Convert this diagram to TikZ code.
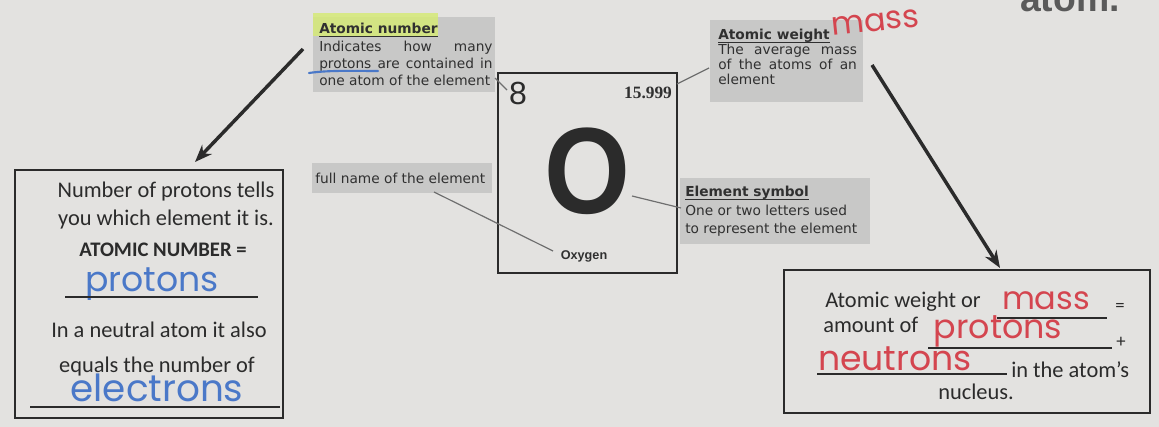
\documentclass[tikz,border=0pt]{standalone}
\usepackage{fontspec}
\setmainfont{Carlito}
\newfontfamily\dejavu{DejaVu Sans}
\newfontfamily\arialf{Liberation Sans}
\newfontfamily\timesf{Liberation Serif}
\newfontfamily\handf{Poppins}
\usetikzlibrary{arrows.meta}
\definecolor{bg}{HTML}{E3E2E0}
\definecolor{boxgray}{HTML}{C8C8C7}
\definecolor{ink}{HTML}{2B2B2B}
\definecolor{labink}{HTML}{303030}
\definecolor{leadgray}{HTML}{6F6F6F}
\definecolor{penblue}{HTML}{4A78C8}
\definecolor{penred}{HTML}{D4454F}
\definecolor{hl}{HTML}{D6EA78}
\newcommand\ulbl[1]{\underline{\smash{#1}}}
\begin{document}
\begin{tikzpicture}[x=0.75pt,y=-0.75pt,
  graybox/.style={fill=boxgray, inner sep=0, outer sep=0, anchor=north west},
  lbl/.style={font={\dejavu\fontsize{10.3}{12}\selectfont}, text=labink, inner sep=0, anchor=base west},
  bodytxt/.style={font={\fontsize{16.8}{19}\selectfont}, text=ink, inner sep=0, anchor=base},
  handblue/.style={font={\handf\fontsize{26}{28}\selectfont}, text=penblue, inner sep=0, anchor=base},
  handred/.style={font={\handf\fontsize{24}{26}\selectfont}, text=penred, inner sep=0, anchor=base},
  leader/.style={draw=leadgray, line width=0.9pt},
  bigarrow/.style={draw=ink, line width=2.6pt, -{Stealth[length=13pt,width=10pt]}},
  frame/.style={draw=ink, line width=1.4pt, inner sep=0, outer sep=0, anchor=north west},
  blank/.style={draw=ink, line width=0.9pt}]
\fill[bg] (0,0) rectangle (1159,427);
\useasboundingbox (0,0) rectangle (1159,427);

% partially visible word at top right
\node[font={\arialf\bfseries\fontsize{28}{30}\selectfont}, text=labink!80, inner sep=0, anchor=base] (atomcut) at (1070,12) {atom.};

% ---------- Atomic number box ----------
\node[graybox, minimum width=136.5pt, minimum height=56.25pt] (anumbox) at (313,17) {};
\fill[hl, opacity=0.85] (313,13) rectangle (438,36);
\node[lbl] (an1) at (319,34) {\ulbl{\textbf{Atomic number}}};
\node[lbl] (an2) at (319,52) {\makebox[130pt][s]{Indicates how many}};
\node[lbl] (an3) at (319,69) {\makebox[130pt][s]{protons are contained in}};
\node[lbl] (an4) at (319,86) {one atom of the element};
\draw[penblue, line width=1.6pt, line cap=round] (309,73) .. controls (330,70) and (355,71) .. (378,71);

% ---------- Element tile ----------
\node[frame, minimum width=134.25pt, minimum height=150pt] (tile) at (498,73) {};
\node[font={\arialf\fontsize{24}{26}\selectfont}, text=ink, inner sep=0] (eight) at (518,93) {8};
\node[font={\timesf\bfseries\fontsize{13}{14}\selectfont}, text=labink, inner sep=0] (wnum) at (648,93) {15.999};
\node[font={\arialf\bfseries\fontsize{92}{96}\selectfont}, text=ink, inner sep=0, xscale=0.9] (sym) at (587,171) {O};
\node[font={\arialf\bfseries\fontsize{9.5}{11}\selectfont}, text=labink, inner sep=0] (oxy) at (584,256) {Oxygen};

% ---------- Atomic weight box ----------
\node[graybox, minimum width=114.75pt, minimum height=61.5pt] (wbox) at (710,20) {};
\node[lbl] (aw1) at (718,40) {\ulbl{\textbf{Atomic weight}}};
\node[lbl] (aw2) at (718,55) {\makebox[104pt][s]{The average mass}};
\node[lbl] (aw3) at (718,70) {\makebox[104pt][s]{of the atoms of an}};
\node[lbl] (aw4) at (718,85) {element};
\node[handred, rotate=6] (mtop) at (876,31) {mass};

% ---------- Full name box ----------
\node[graybox, minimum width=135pt, minimum height=22.5pt] (nbox) at (312,163) {};
\node[lbl] (fn) at (315,184) {full name of the element};

% ---------- Element symbol box ----------
\node[graybox, minimum width=142.5pt, minimum height=49.5pt] (sbox) at (680,178) {};
\node[lbl] (es1) at (685,197) {\ulbl{\textbf{Element symbol}}};
\node[lbl] (es2) at (685,216) {One or two letters used};
\node[lbl] (es3) at (685,234) {to represent the element};

% ---------- leader lines ----------
\coordinate (l8a) at (495,78);   \coordinate (l8b) at (507,90);
\coordinate (lwa) at (677,84);   \coordinate (lwb) at (709,68);
\coordinate (lna) at (434,192);  \coordinate (lnb) at (553,251);
\coordinate (lsa) at (632,196);  \coordinate (lsb) at (681,208);
\draw[leader] (l8a) -- (l8b);
\draw[leader] (lwa) -- (lwb);
\draw[leader] (lna) -- (lnb);
\draw[leader] (lsa) -- (lsb);

% ---------- Left answer box ----------
\node[frame, minimum width=201pt, minimum height=186pt] (lbox) at (15,170) {};
\node[bodytxt] (lt1) at (166,198) {Number of protons tells};
\node[bodytxt] (lt2) at (166,226) {you which element it is.};
\node[bodytxt, font={\bfseries\fontsize{15.5}{18}\selectfont}] (lt3) at (163,257) {ATOMIC NUMBER =};
\node[handblue] (lh1) at (152,292) {protons};
\draw[blank] (65,297) -- (258,297);
\node[bodytxt] (lt4) at (159,338) {In a neutral atom it also};
\node[bodytxt] (lt5) at (157,372) {equals the number of};
\node[handblue, font={\handf\fontsize{28}{30}\selectfont}] (lh2) at (157,401) {electrons};
\draw[blank] (30,407) -- (280,407);

% ---------- Right answer box ----------
\node[frame, minimum width=274.5pt, minimum height=107.25pt] (rbox) at (784,270) {};
\node[bodytxt, anchor=base west] (rt1) at (825,308) {Atomic weight or};
\node[handred] (rh1) at (1046,310) {mass};
\draw[blank] (997,318) -- (1107,318);
\node[bodytxt, font={\fontsize{14}{15}\selectfont}] (req) at (1120,312) {=};
\node[bodytxt, anchor=base west] (rt2) at (823,333) {amount of};
\node[handred, font={\handf\fontsize{25}{27}\selectfont}] (rh2) at (998,339) {protons};
\draw[blank] (928,348) -- (1112,348);
\node[bodytxt, font={\fontsize{14}{15}\selectfont}] (rplus) at (1121,347) {+};
\node[handred, font={\handf\fontsize{26}{28}\selectfont}] (rh3) at (895,370) {neutrons};
\draw[blank] (817,374) -- (1007,374);
\node[bodytxt, anchor=base west] (rt3) at (1011,377) {in the atom's};
\node[bodytxt] (rt4) at (976,399) {nucleus.};

% ---------- big arrows ----------
\coordinate (la1) at (303,49);  \coordinate (la2) at (195,162);
\coordinate (ra1) at (872,65);  \coordinate (ra2) at (1000,268);
\draw[bigarrow] (la1) -- (la2);
\draw[bigarrow] (ra1) -- (ra2);
\end{tikzpicture}
\end{document}
